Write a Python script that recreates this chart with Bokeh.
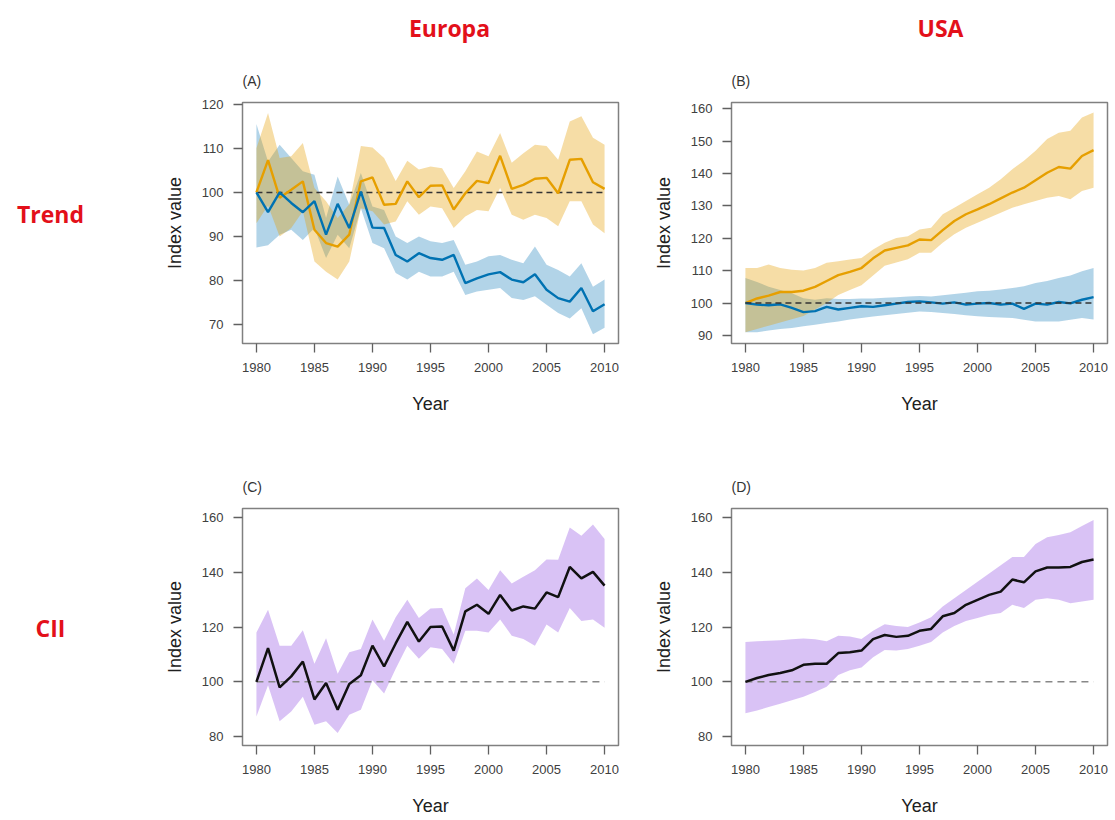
from bokeh.plotting import figure
from bokeh.layouts import row, column
from bokeh.models import FixedTicker, Range1d
from bokeh.core.properties import value
from bokeh.embed import file_html
from bokeh.resources import INLINE

# ---------------- data ----------------
years = list(range(1980, 2011))
x_ticks = [1980, 1985, 1990, 1995, 2000, 2005, 2010]
BASELINE = 100

column_titles = ["Europa", "USA"]
row_titles = ["Trend", "CII"]
panel_tags = ["(A)", "(B)", "(C)", "(D)"]

# (A) Europe - trend
eu_orange = [100, 107.3, 98.8, 100.6, 102.5, 91.5, 88.5, 87.7, 90.4, 102.5, 103.4,
             97.2, 97.4, 102.5, 98.9, 101.5, 101.6, 96.1, 99.8, 102.6, 102.1,
             108.3, 100.8, 101.7, 103.1, 103.3, 99.8, 107.4, 107.6, 102.3, 100.8]
eu_orange_hi = [110, 118, 107.8, 108.2, 111.2, 101, 98, 94.2, 97.3, 110.5, 110.2,
                107.8, 102.6, 107.2, 105.2, 105.9, 105.5, 101, 104.8, 109.3, 108.2,
                113.5, 106.7, 108.9, 110.8, 110.5, 107.4, 116.1, 117.3, 112.4, 110.8]
eu_orange_lo = [93, 97, 90, 91.9, 95.7, 84.3, 82, 80.2, 84.3, 96.4, 95.7,
                92.7, 93.4, 98, 94.9, 96.8, 96.4, 91.9, 94.5, 96, 95.7,
                101, 94.9, 93.8, 94.9, 94.2, 92.3, 98, 98, 92.7, 90.7]
eu_blue = [100, 95.5, 100, 97.6, 95.5, 98, 90.4, 97.4, 91.9, 100.2, 92.0,
           91.9, 85.8, 84.3, 86.2, 85.1, 84.7, 85.8, 79.4, 80.5, 81.4,
           81.9, 80.2, 79.6, 81.4, 77.9, 76.0, 75.2, 78.3, 73.0, 74.6]
eu_blue_hi = [115.5, 107, 110.8, 107.8, 104.8, 104, 94.2, 103.6, 97.2, 104.4, 96.8,
              96, 90, 88.5, 90, 88.9, 88.5, 89.2, 83.6, 84.3, 85.5,
              85.8, 84.7, 83.9, 87.7, 83.6, 82.4, 80.9, 83.9, 78.6, 80.2]
eu_blue_lo = [87.5, 88, 90.4, 91.5, 89.2, 91.9, 85.1, 90.4, 87.3, 96.4, 88.5,
              87.3, 81.7, 80.2, 82, 80.9, 80.9, 82, 76.7, 77.5, 77.9,
              78.3, 76, 75.6, 76.4, 74.5, 72.6, 71.4, 73.7, 67.8, 69.3]

# (B) USA - trend
us_orange = [100, 101.4, 102.3, 103.4, 103.4, 103.8, 105, 106.8, 108.6, 109.6, 110.8,
             113.8, 116.2, 117, 117.8, 119.6, 119.4, 122.5, 125.3, 127.4, 128.9,
             130.5, 132.3, 134.1, 135.6, 137.9, 140.2, 142.0, 141.5, 145.4, 147.2]
us_orange_hi = [110.8, 110.8, 111.9, 110.8, 110.3, 110, 110.8, 112.4, 112.9, 113.4, 113.9,
                116.5, 118.6, 120.1, 120.6, 122.7, 123.2, 127.4, 129.4, 131.5, 133.6,
                135.6, 138.2, 141.3, 143.9, 147, 150.6, 152.6, 153.2, 157.3, 158.8]
us_orange_lo = [91, 92, 93, 94, 95, 96, 98, 100, 102.5, 104, 105.5,
                108.5, 111.5, 112.5, 113.5, 115.5, 115.5, 118.6, 121.2, 123.2, 124.8,
                126.3, 127.9, 129.4, 130.5, 131.5, 132.5, 133, 132, 134.6, 135.6]
us_blue = [100, 99.5, 99.3, 99.6, 98.5, 97.2, 97.5, 98.8, 98.0, 98.5, 99.0,
           98.8, 99.3, 99.8, 100.3, 100.5, 100.2, 99.8, 100.2, 99.5, 99.8,
           100, 99.5, 99.8, 98.2, 99.8, 99.5, 100.3, 99.9, 101.0, 101.8]
us_blue_hi = [107.7, 106.5, 105, 104, 103, 101.5, 101, 101.5, 101.2, 101.2, 101.4,
              101.4, 101.6, 101.8, 102, 102.2, 102, 102.4, 102.8, 103.2, 103.6,
              103.8, 104.2, 104.6, 105.2, 106.2, 106.8, 107.7, 108.5, 109.8, 110.8]
us_blue_lo = [91, 91, 91.5, 92, 92.3, 92.8, 93.3, 93.8, 94.3, 94.9, 95.4,
              95.8, 96.2, 96.6, 97, 97.4, 97.2, 96.9, 96.6, 96.2, 95.9,
              95.7, 95.5, 95.4, 94.8, 94.3, 94.3, 94.3, 94.8, 95.4, 94.9]

# (C) Europe - CII
eu_cii = [100, 112.3, 98, 102, 107.4, 93.6, 99.6, 89.8, 99.2, 102.4, 113.2,
          105.6, 114, 121.9, 114.7, 120, 120.2, 111.4, 125.7, 128.1, 124.8,
          131.7, 126, 127.5, 126.7, 132.6, 130.9, 141.9, 137.7, 140.1, 135.1]
eu_cii_hi = [118, 126.3, 113.2, 113.2, 118.8, 106.6, 115.9, 103, 110.8, 112, 122.7,
             115, 123.6, 129.9, 123.3, 126.7, 126.9, 117.3, 134.1, 137.7, 133.5,
             140.7, 135.9, 138.3, 140.7, 144.6, 144.5, 156.3, 153.3, 157.4, 152.1]
eu_cii_lo = [87.4, 98.8, 85.6, 89.2, 94.6, 84.4, 85.6, 81.4, 88, 89.8, 100.6,
             95.8, 104.8, 113.2, 108.4, 112.6, 112, 106.6, 118.6, 118.6, 118,
             122.7, 116.8, 115.6, 113.2, 120.9, 118, 126.9, 122.2, 122.7, 119.7]

# (D) USA - CII
us_cii = [100, 101.4, 102.5, 103.2, 104.2, 106.2, 106.6, 106.6, 110.5, 110.8, 111.4,
          115.6, 117.1, 116.4, 116.8, 118.6, 119.3, 123.9, 125.1, 128.1, 129.9,
          131.7, 132.9, 137.3, 136.3, 140.3, 141.7, 141.7, 141.9, 143.7, 144.6]
us_cii_hi = [114.5, 114.8, 115, 115.2, 115.5, 115.8, 115.5, 114.8, 116.8, 116.5, 115.6,
             118.6, 121, 120.4, 120, 121.6, 123.6, 127.5, 130.5, 133.5, 136.5,
             139.5, 142.5, 145.5, 145.5, 150.3, 152.7, 153.5, 154.5, 156.8, 159]
us_cii_lo = [88.6, 89.6, 90.8, 92, 93.3, 94.6, 96.3, 98.2, 102.5, 104.2, 105.2,
             109, 111.6, 111.4, 112, 113.2, 114.5, 118, 120.4, 122.2, 123.3,
             124.5, 125.1, 128.1, 126.9, 129.9, 130.5, 129.9, 128.7, 129.3, 129.9]

y_ticks_A = [70, 80, 90, 100, 110, 120]
y_ticks_B = [90, 100, 110, 120, 130, 140, 150, 160]
y_ticks_CD = [80, 100, 120, 140, 160]

# ---------------- styling ----------------
ORANGE = "#E69F00"
BLUE = "#0072B2"
PURPLE = "#A066E6"
RED = "#E3101A"
FONT = "Liberation Sans"
X_RANGE = (1978.8, 2011.2)


def panel(tag, y_range, y_ticks, mb_left, fw, mb_right, mb_top, fh, mb_bottom):
    p = figure(width=mb_left + fw + mb_right, height=mb_top + fh + mb_bottom,
               x_range=Range1d(*X_RANGE), y_range=Range1d(*y_range),
               output_backend="svg", toolbar_location=None,
               min_border_left=mb_left, min_border_right=mb_right,
               min_border_top=mb_top, min_border_bottom=mb_bottom,
               x_axis_label="Year", y_axis_label="Index value", title=tag)
    p.title.align = "left"
    p.title.text_font = FONT
    p.title.text_font_size = "14px"
    p.title.text_font_style = "normal"
    p.title.text_color = "#333333"
    p.title.standoff = 28
    p.xgrid.visible = False
    p.ygrid.visible = False
    p.outline_line_color = "#808080"
    p.outline_line_width = 1.5
    p.background_fill_color = "white"
    p.border_fill_color = "white"
    p.xaxis.ticker = FixedTicker(ticks=x_ticks)
    p.yaxis.ticker = FixedTicker(ticks=y_ticks)
    for ax in (p.xaxis[0], p.yaxis[0]):
        ax.axis_line_color = None
        ax.major_tick_in = 0
        ax.major_tick_out = 9
        ax.major_tick_line_color = "#606060"
        ax.major_tick_line_width = 1.3
        ax.minor_tick_line_color = None
        ax.major_label_text_font = FONT
        ax.major_label_text_font_size = "13px"
        ax.major_label_text_color = "#404040"
        ax.major_label_standoff = 10
        ax.axis_label_text_font = FONT
        ax.axis_label_text_font_size = "18px"
        ax.axis_label_text_font_style = "normal"
        ax.axis_label_text_color = "#202020"
    p.xaxis[0].axis_label_standoff = 19
    p.yaxis[0].axis_label_standoff = 14
    return p


def baseline(p, color, dash):
    p.line(x=[years[0], years[-1]], y=[BASELINE, BASELINE], line_color=color,
           line_dash=dash, line_width=1.5)


# Panel A
pA = panel(panel_tags[0], (65.7, 120.4), y_ticks_A, 92, 376, 22, 48, 241, 111)
pA.varea(x=years, y1=eu_blue_lo, y2=eu_blue_hi, fill_color=BLUE, fill_alpha=0.3)
pA.varea(x=years, y1=eu_orange_lo, y2=eu_orange_hi, fill_color=ORANGE, fill_alpha=0.35)
baseline(pA, "#333333", "6 4")
pA.line(x=years, y=eu_orange, line_color=ORANGE, line_width=2.4)
pA.line(x=years, y=eu_blue, line_color=BLUE, line_width=2.4)

# Panel B
pB = panel(panel_tags[1], (87.5, 161.9), y_ticks_B, 91, 376, 6, 48, 241, 111)
pB.varea(x=years, y1=us_blue_lo, y2=us_blue_hi, fill_color=BLUE, fill_alpha=0.3)
pB.varea(x=years, y1=us_orange_lo, y2=us_orange_hi, fill_color=ORANGE, fill_alpha=0.35)
pB.line(x=years, y=us_orange, line_color=ORANGE, line_width=2.4)
pB.line(x=years, y=us_blue, line_color=BLUE, line_width=2.4)
baseline(pB, "#333333", "6 4")

# Panel C
pC = panel(panel_tags[2], (76.8, 163.2), y_ticks_CD, 92, 376, 22, 54, 241, 69)
pC.varea(x=years, y1=eu_cii_lo, y2=eu_cii_hi, fill_color=PURPLE, fill_alpha=0.4)
baseline(pC, "#888888", "7 5")
pC.line(x=years, y=eu_cii, line_color="#111111", line_width=2.5)

# Panel D
pD = panel(panel_tags[3], (76.8, 163.2), y_ticks_CD, 91, 376, 6, 54, 241, 69)
pD.varea(x=years, y1=us_cii_lo, y2=us_cii_hi, fill_color=PURPLE, fill_alpha=0.4)
baseline(pD, "#888888", "7 5")
pD.line(x=years, y=us_cii, line_color="#111111", line_width=2.5)


def blank(w, h):
    f = figure(width=w, height=h, x_range=Range1d(0, w), y_range=Range1d(0, h),
               output_backend="svg", toolbar_location=None,
               min_border=0, min_border_left=0, min_border_right=0,
               min_border_top=0, min_border_bottom=0)
    f.axis.visible = False
    f.grid.visible = False
    f.outline_line_color = None
    f.background_fill_color = "white"
    f.border_fill_color = "white"
    return f


header = blank(1113, 54)
header.text(x=[449, 940], y=[27, 27], text=column_titles, text_align="center",
            text_baseline="middle", text_color=RED, text_font=value("Open Sans"),
            text_font_style="bold", text_font_size="23px")

side = blank(150, 764)
side.text(x=[50, 50], y=[605, 191], text=row_titles, text_align="center",
          text_baseline="middle", text_color=RED, text_font=value("Open Sans"),
          text_font_style="bold", text_font_size="23px")

layout = column(header, row(side, column(row(pA, pB), row(pC, pD))))

open("out.html", "w").write(file_html(layout, INLINE))
